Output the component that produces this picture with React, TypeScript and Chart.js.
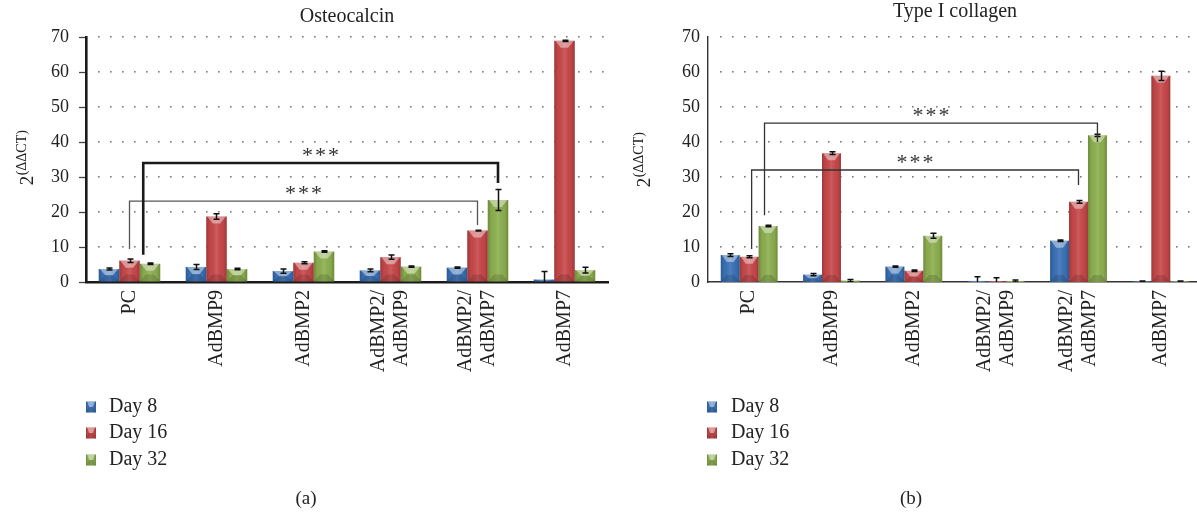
import React, { useEffect, useRef } from "react";
import { Chart, registerables } from "chart.js";

Chart.register(...registerables);

// ---------- data ----------
const categories = ["PC", "AdBMP9", "AdBMP2", "AdBMP2/\nAdBMP9", "AdBMP2/\nAdBMP7", "AdBMP7"];
const seriesLabels = ["Day 8", "Day 16", "Day 32"];
const yTickValues = [0, 10, 20, 30, 40, 50, 60, 70];

const osteoDay8 = [3.7, 4.3, 3.1, 3.3, 4.1, 0.7];
const osteoDay16 = [6.1, 18.7, 5.5, 7.1, 14.7, 68.9];
const osteoDay32 = [5.2, 3.7, 8.7, 4.4, 23.4, 3.4];
const osteoErrDay8 = [0.3, 0.7, 0.6, 0.4, 0.2, 2.3];
const osteoErrDay16 = [0.5, 0.8, 0.3, 0.6, 0.1, 0.2];
const osteoErrDay32 = [0.2, 0.2, 0.2, 0.2, 3.0, 0.8];

const collDay8 = [7.7, 2.1, 4.4, 0.3, 11.8, 0.2];
const collDay16 = [7.2, 36.8, 3.2, 0.2, 22.9, 58.9];
const collDay32 = [16.0, 0.4, 13.2, 0.3, 41.9, 0.2];
const collErrDay8 = [0.4, 0.3, 0.2, 1.2, 0.2, 0.1];
const collErrDay16 = [0.3, 0.4, 0.2, 1.0, 0.4, 1.3];
const collErrDay32 = [0.2, 0.3, 0.7, 0.3, 0.3, 0.1];

// significance brackets: [fromCategory, toCategory, dataset, topValue, leftLegValue, rightLegValue]
const osteoSigLower = [0, 4, 1, 23.1, 9.4, 16.3];
const osteoSigUpper = [0, 4, 2, 34, 7.8, 28.3];
const collSigLower = [0, 4, 1, 32, 9.4, 27.7];
const collSigUpper = [0, 4, 2, 45.4, 19.1, 40];
const sigText = "***";

const titles = ["Osteocalcin", "Type I collagen"];
const panelLabels = ["(a)", "(b)"];

// ---------- styling ----------
const COLORS = ["#3a72b8", "#c8484a", "#8db04f"];
const SERIF = "'Liberation Serif', 'DejaVu Serif', serif";
const TEXT = "#222";

function drawBevel(ctx: CanvasRenderingContext2D, left: number, top: number, w: number, h: number) {
  if (w <= 0 || h <= 0.6) return;
  const right = left + w;
  const bottom = top + h;
  const g = ctx.createLinearGradient(left, 0, right, 0);
  g.addColorStop(0, "rgba(0,0,0,0.22)");
  g.addColorStop(0.18, "rgba(0,0,0,0.04)");
  g.addColorStop(0.5, "rgba(255,255,255,0.10)");
  g.addColorStop(0.82, "rgba(0,0,0,0.04)");
  g.addColorStop(1, "rgba(0,0,0,0.22)");
  ctx.fillStyle = g;
  ctx.fillRect(left, top, w, h);
  const b = Math.min(7, h / 2);
  ctx.fillStyle = "rgba(255,255,255,0.42)";
  ctx.beginPath();
  ctx.moveTo(left + 1, top);
  ctx.lineTo(right - 1, top);
  ctx.lineTo(right - w * 0.32, top + b);
  ctx.lineTo(left + w * 0.32, top + b);
  ctx.closePath();
  ctx.fill();
  ctx.fillStyle = "rgba(0,0,0,0.14)";
  ctx.beginPath();
  ctx.moveTo(left, bottom);
  ctx.lineTo(right, bottom);
  ctx.lineTo(right - w * 0.3, bottom - b);
  ctx.lineTo(left + w * 0.3, bottom - b);
  ctx.closePath();
  ctx.fill();
}

type BracketCfg = { vals: number[]; width: number; color: string; dx: number };
type PanelCfg = {
  series: number[][];
  errors: number[][];
  title: string;
  titleY: number;
  yAxisWidth: number;
  padRight: number;
  catPct: number;
  tickMarks: boolean;
  tickPad: number;
  axisWidth: number;
  axisColor: string;
  yTitleX: number;
  yTitleY: number;
  legendX: number;
  legendTextX: number;
  panelLabel: string;
  panelLabelX: number;
  brackets: BracketCfg[];
};

function makeChart(canvas: HTMLCanvasElement, cfg: PanelCfg) {
  const H = canvas.height;
  const plugin = {
    id: "decor",
    beforeDatasetsDraw(chart: any) {
      const ctx = chart.ctx as CanvasRenderingContext2D;
      const y = chart.scales.y;
      const ca = chart.chartArea;
      ctx.save();
      ctx.fillStyle = "#7a7a7a";
      yTickValues.forEach((v) => {
        if (v === 0) return;
        const py = Math.round(y.getPixelForValue(v));
        for (let x = ca.left + 12; x < ca.right - 1; x += 12) {
          ctx.fillRect(Math.round(x), py - 1, 1.6, 1.6);
        }
      });
      ctx.restore();
    },
    afterDatasetsDraw(chart: any) {
      const ctx = chart.ctx as CanvasRenderingContext2D;
      const y = chart.scales.y;
      const ca = chart.chartArea;
      ctx.save();
      chart.data.datasets.forEach((_: any, di: number) => {
        const meta = chart.getDatasetMeta(di);
        meta.data.forEach((el: any) => {
          const top = Math.min(el.y, el.base);
          const h = Math.abs(el.base - el.y);
          drawBevel(ctx, el.x - el.width / 2, top, el.width, h);
        });
      });
      ctx.beginPath();
      ctx.rect(ca.left, ca.top - 5, ca.right - ca.left, ca.bottom - ca.top + 5);
      ctx.clip();
      ctx.strokeStyle = "#111";
      ctx.lineWidth = 1.5;
      chart.data.datasets.forEach((ds: any, di: number) => {
        const meta = chart.getDatasetMeta(di);
        const errs = cfg.errors[di];
        meta.data.forEach((el: any, i: number) => {
          const v = ds.data[i];
          const e = errs[i];
          const y1 = y.getPixelForValue(v + e);
          const y2 = y.getPixelForValue(v - e);
          const x = Math.round(el.x) + 0.5;
          ctx.beginPath();
          ctx.moveTo(x, y1);
          ctx.lineTo(x, y2);
          ctx.moveTo(x - 3, y1);
          ctx.lineTo(x + 3, y1);
          ctx.moveTo(x - 3, y2);
          ctx.lineTo(x + 3, y2);
          ctx.stroke();
        });
      });
      ctx.restore();
    },
    afterDraw(chart: any) {
      const ctx = chart.ctx as CanvasRenderingContext2D;
      const xs = chart.scales.x;
      const y = chart.scales.y;
      const ca = chart.chartArea;
      ctx.save();
      // title
      ctx.fillStyle = TEXT;
      ctx.font = `20px ${SERIF}`;
      ctx.textAlign = "center";
      ctx.textBaseline = "middle";
      ctx.fillText(cfg.title, (ca.left + ca.right) / 2, cfg.titleY);

      // category labels (rotated)
      ctx.font = `20px ${SERIF}`;
      categories.forEach((lab, i) => {
        const cx = xs.getPixelForValue(i);
        const lines = lab.split("\n");
        const n = lines.length;
        lines.forEach((ln, j) => {
          const lx = cx + (j - (n - 1) / 2) * 23;
          ctx.save();
          ctx.translate(lx, ca.bottom + 8);
          ctx.rotate(-Math.PI / 2);
          ctx.textAlign = "right";
          ctx.textBaseline = "middle";
          ctx.fillText(ln, 0, 0);
          ctx.restore();
        });
      });

      // y axis title 2^(ΔΔCT)
      ctx.save();
      ctx.translate(cfg.yTitleX, cfg.yTitleY);
      ctx.rotate(-Math.PI / 2);
      ctx.textAlign = "left";
      ctx.textBaseline = "alphabetic";
      ctx.font = `19px ${SERIF}`;
      const w2 = ctx.measureText("2").width;
      ctx.font = `14px ${SERIF}`;
      const ws = ctx.measureText("(ΔΔCT)").width;
      const start = -(w2 + ws) / 2;
      ctx.font = `19px ${SERIF}`;
      ctx.fillText("2", start, 7);
      ctx.font = `14px ${SERIF}`;
      ctx.fillText("(ΔΔCT)", start + w2 + 0.5, 0);
      ctx.restore();

      // brackets
      cfg.brackets.forEach((bk) => {
        const [a, b, ds, topV, lV, rV] = bk.vals;
        const meta = chart.getDatasetMeta(ds);
        const ea = meta.data[a];
        const eb = meta.data[b];
        const x1 = ea.x + bk.dx * ea.width;
        const x2 = eb.x;
        const yt = y.getPixelForValue(topV);
        ctx.strokeStyle = bk.color;
        ctx.lineWidth = bk.width;
        ctx.beginPath();
        ctx.moveTo(x1, y.getPixelForValue(lV));
        ctx.lineTo(x1, yt);
        ctx.lineTo(x2, yt);
        ctx.lineTo(x2, y.getPixelForValue(rV));
        ctx.stroke();
        ctx.fillStyle = "#333";
        ctx.font = `22px ${SERIF}`;
        (ctx as any).letterSpacing = "2px";
        ctx.textAlign = "center";
        ctx.textBaseline = "alphabetic";
        ctx.fillText(sigText, (x1 + x2) / 2 + 1, yt - 13 + 11.5);
        (ctx as any).letterSpacing = "0px";
      });

      // legend
      const legendY = [407, 433, 460];
      seriesLabels.forEach((s, i) => {
        const ly = legendY[i];
        ctx.fillStyle = COLORS[i];
        ctx.fillRect(cfg.legendX, ly - 5.5, 10, 11);
        drawBevel(ctx, cfg.legendX, ly - 5.5, 10, 11);
        ctx.fillStyle = TEXT;
        ctx.font = `20px ${SERIF}`;
        ctx.textAlign = "left";
        ctx.textBaseline = "middle";
        ctx.fillText(s, cfg.legendTextX, ly);
      });

      // panel label
      ctx.fillStyle = TEXT;
      ctx.font = `19px ${SERIF}`;
      ctx.textAlign = "center";
      ctx.textBaseline = "middle";
      ctx.fillText(cfg.panelLabel, cfg.panelLabelX, 499);
      ctx.restore();
    },
  };

  return new Chart(canvas, {
    type: "bar",
    data: {
      labels: categories,
      datasets: cfg.series.map((d, i) => ({
        label: seriesLabels[i],
        data: d,
        backgroundColor: COLORS[i],
        borderWidth: 0,
        barPercentage: 1,
        categoryPercentage: cfg.catPct,
      })),
    },
    options: {
      responsive: false,
      animation: false,
      events: [],
      layout: { padding: { top: 37, left: 0, right: cfg.padRight, bottom: 0 } },
      plugins: { legend: { display: false }, tooltip: { enabled: false }, title: { display: false } },
      scales: {
        x: {
          ticks: { display: false },
          grid: { display: false, drawTicks: false },
          border: { display: true, color: cfg.axisColor, width: cfg.axisWidth },
          afterFit: (s: any) => {
            s.height = H - 282;
          },
        },
        y: {
          min: 0,
          max: 70,
          ticks: {
            stepSize: 10,
            color: TEXT,
            font: { family: SERIF, size: 18 },
            padding: cfg.tickPad,
          },
          grid: {
            display: cfg.tickMarks,
            drawOnChartArea: false,
            drawTicks: cfg.tickMarks,
            tickLength: 7,
            tickColor: "#444",
            tickWidth: 1.3,
          },
          border: { display: true, color: cfg.axisColor, width: cfg.axisWidth },
          afterFit: (s: any) => {
            s.width = cfg.yAxisWidth;
          },
        },
      },
    },
    plugins: [plugin],
  } as any);
}

const leftCfg: PanelCfg = {
  series: [osteoDay8, osteoDay16, osteoDay32],
  errors: [osteoErrDay8, osteoErrDay16, osteoErrDay32],
  title: titles[0],
  titleY: 17,
  yAxisWidth: 86,
  padRight: 12,
  catPct: 0.707,
  tickMarks: true,
  tickPad: 10,
  axisWidth: 2.6,
  axisColor: "#1a1a1a",
  yTitleX: 26,
  yTitleY: 158,
  legendX: 86,
  legendTextX: 109,
  panelLabel: panelLabels[0],
  panelLabelX: 306,
  brackets: [
    { vals: osteoSigLower, width: 1.3, color: "#555", dx: 0 },
    { vals: osteoSigUpper, width: 2.6, color: "#1a1a1a", dx: -0.33 },
  ],
};

const rightCfg: PanelCfg = {
  series: [collDay8, collDay16, collDay32],
  errors: [collErrDay8, collErrDay16, collErrDay32],
  title: titles[1],
  titleY: 12,
  yAxisWidth: 108,
  padRight: 3,
  catPct: 0.69,
  tickMarks: false,
  tickPad: 8,
  axisWidth: 1.4,
  axisColor: "#333",
  yTitleX: 43,
  yTitleY: 160,
  legendX: 107,
  legendTextX: 131,
  panelLabel: panelLabels[1],
  panelLabelX: 311,
  brackets: [
    { vals: collSigLower, width: 1.3, color: "#333", dx: 0.13 },
    { vals: collSigUpper, width: 1.3, color: "#333", dx: -0.19 },
  ],
};

export default function App() {
  const leftRef = useRef<HTMLCanvasElement>(null);
  const rightRef = useRef<HTMLCanvasElement>(null);
  useEffect(() => {
    const c1 = makeChart(leftRef.current!, leftCfg);
    const c2 = makeChart(rightRef.current!, rightCfg);
    return () => {
      c1.destroy();
      c2.destroy();
    };
  }, []);
  return (
    <div
      style={{
        position: "fixed",
        left: 0,
        top: 0,
        width: 1197,
        height: 513,
        overflow: "hidden",
        background: "#fff",
      }}
    >
      <canvas ref={leftRef} width={620} height={513} style={{ position: "absolute", left: 0, top: 0 }} />
      <canvas ref={rightRef} width={605} height={513} style={{ position: "absolute", left: 600, top: 0 }} />
    </div>
  );
}
